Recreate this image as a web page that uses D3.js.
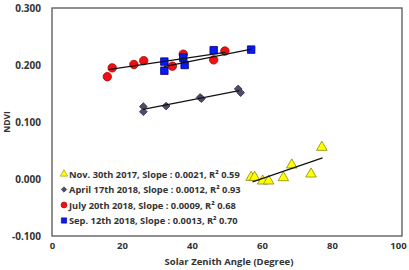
<!DOCTYPE html>
<html>
<head>
<meta charset="utf-8">
<script src="https://cdn.jsdelivr.net/npm/d3@7"></script>
<style>
  body { margin: 0; background: #fff; }
  text { font-family: "Open Sans", "DejaVu Sans", sans-serif; font-weight: bold; fill: #333; }
</style>
</head>
<body>
<svg id="chart" width="409" height="270"></svg>
<script>
// data
var xTicks = [0, 20, 40, 60, 80, 100];
var yTicks = [-0.1, 0, 0.1, 0.2, 0.3];

var novX = [56.9, 57.9, 60.2, 61.9, 66.1, 68.5, 74.0, 77.1];
var novY = [0.003, 0.003, -0.0035, -0.0035, 0.0023, 0.0246, 0.0088, 0.0556];

var aprX = [26.1, 26.1, 32.6, 42.3, 42.7, 53.2, 53.9];
var aprY = [0.127, 0.118, 0.128, 0.143, 0.141, 0.158, 0.1515];

var julX = [15.8, 17.2, 23.4, 26.2, 34.4, 37.5, 46.2, 49.4];
var julY = [0.1795, 0.195, 0.201, 0.2076, 0.198, 0.219, 0.209, 0.2245];

var sepX = [32.1, 32.1, 37.5, 37.9, 46.2, 56.9];
var sepY = [0.206, 0.190, 0.213, 0.200, 0.226, 0.227];

// trend line end points [x0, y0, x1, y1]
var novFit = [57.3, -0.005, 77.3, 0.037];
var aprFit = [26.0, 0.122, 53.5, 0.155];
var julFit = [16.1, 0.192, 49.5, 0.222];
var sepFit = [32.0, 0.197, 57.0, 0.228];

var legendLabels = [
  "Nov. 30th 2017, Slope : 0.0021, R\u00b2 0.59",
  "April 17th 2018, Slope : 0.0012, R\u00b2 0.93",
  "July 20th 2018, Slope : 0.0009, R\u00b2 0.68",
  "Sep. 12th 2018, Slope : 0.0013, R\u00b2 0.70"
];

var svg = d3.select("#chart");

var x = d3.scaleLinear().domain([0, 100]).range([52, 402]);
var y = d3.scaleLinear().domain([-0.1, 0.3]).range([236, 8]);

var fmt = d3.formatLocale({decimal: ".", thousands: ",", grouping: [3], currency: ["", ""], minus: "-"}).format(".3f");

svg.append("g")
    .attr("transform", "translate(52,0)")
    .call(d3.axisLeft(y).tickValues(yTicks).tickSize(0).tickPadding(11).tickFormat(fmt))
    .call(g => g.select(".domain").remove())
    .selectAll("text").attr("font-size", 10).attr("font-family", null);

svg.append("g")
    .attr("transform", "translate(0,236)")
    .call(d3.axisBottom(x).tickValues(xTicks).tickSize(0).tickPadding(6))
    .call(g => g.select(".domain").remove())
    .selectAll("text").attr("font-size", 9.5).attr("font-family", null)
    .attr("dx", d => d === 100 ? -4 : 0);

// plot frame
svg.append("rect")
    .attr("x", x(0)).attr("y", y(0.3))
    .attr("width", x(100) - x(0)).attr("height", y(-0.1) - y(0.3))
    .attr("fill", "none").attr("stroke", "#555").attr("stroke-width", 1.3);

svg.append("text")
    .attr("x", (x(0) + x(100)) / 2 + 2).attr("y", 265)
    .attr("text-anchor", "middle").attr("font-size", 9.5)
    .text("Solar Zenith Angle (Degree)");

svg.append("text")
    .attr("transform", "translate(10," + ((y(0.3) + y(-0.1)) / 2) + ") rotate(-90)")
    .attr("text-anchor", "middle").attr("font-size", 8.5)
    .text("NDVI");

var series = [
  {xs: novX, ys: novY, fit: novFit, sym: d3.symbolTriangle, size: 48, rot: 0, fill: "#ffff00", stroke: "#8a8a00"},
  {xs: aprX, ys: aprY, fit: aprFit, sym: d3.symbolSquare, size: 30, rot: 45, fill: "#4d4d6b", stroke: "#34344a"},
  {xs: julX, ys: julY, fit: julFit, sym: d3.symbolCircle, size: 56, rot: 0, fill: "#ee1111", stroke: "#b00000"},
  {xs: sepX, ys: sepY, fit: sepFit, sym: d3.symbolSquare, size: 56, rot: 0, fill: "#0a1aee", stroke: "#00008a"}
];

// points
series.forEach(function(s) {
  svg.append("g").selectAll("path")
      .data(d3.range(s.xs.length))
      .enter().append("path")
      .attr("transform", i => "translate(" + x(s.xs[i]) + "," + y(s.ys[i]) + ") rotate(" + s.rot + ")")
      .attr("d", d3.symbol().type(s.sym).size(s.size))
      .attr("fill", s.fill).attr("stroke", s.stroke).attr("stroke-width", 0.8);
});

// trend lines on top
series.forEach(function(s) {
  svg.append("line")
      .attr("x1", x(s.fit[0])).attr("y1", y(s.fit[1]))
      .attr("x2", x(s.fit[2])).attr("y2", y(s.fit[3]))
      .attr("stroke", "#111").attr("stroke-width", 1.2);
});

// legend
var legend = svg.append("g");
var rowY = [174, 189.5, 205, 220.5];
legendLabels.forEach(function(lab, i) {
  var s = series[i];
  legend.append("path")
      .attr("transform", "translate(64," + rowY[i] + ") rotate(" + s.rot + ")")
      .attr("d", d3.symbol().type(s.sym).size(s.size * 0.5))
      .attr("fill", s.fill).attr("stroke", s.stroke).attr("stroke-width", 0.6);
  legend.append("text")
      .attr("x", 69).attr("y", rowY[i] + 3.5)
      .attr("font-size", 9.3)
      .text(lab);
});
</script>
</body>
</html>
